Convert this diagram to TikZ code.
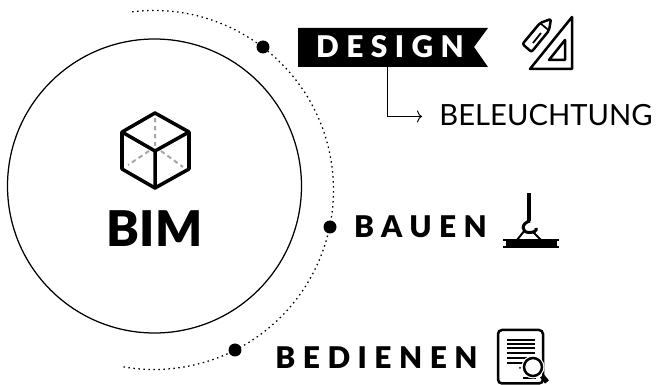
\documentclass[tikz,border=0pt]{standalone}
\usepackage{fontspec}
\setmainfont{Lato}
\newfontfamily\blackfont{Lato Black}
\usetikzlibrary{positioning,arrows.meta}

\tikzset{
    dotmark/.style={circle, fill=black, inner sep=0pt, minimum size=0.26cm},
    stagelabel/.style={font=\blackfont\fontsize{17}{20}\selectfont\addfontfeature{LetterSpace=25}, inner sep=0pt},
    iconline/.style={line width=0.05cm, line join=round}
}

\begin{document}
\begin{tikzpicture}
    \useasboundingbox (0,0) rectangle (13.12,7.7);

    % Big circle with the cube
    \draw[line width=0.025cm] (3.09,3.98) circle (2.94);
    \draw[line width=0.07cm, line join=round] (3.10,5.44) -- (2.44,5.06) -- (2.44,4.32) -- (3.10,3.94) -- (3.78,4.32) -- (3.78,5.06) -- cycle;
    \draw[line width=0.07cm, line join=round] (2.44,5.06) -- (3.10,4.68) -- (3.78,5.06) (3.10,4.68) -- (3.10,3.94);
    \draw[gray!70, line width=0.04cm, dash pattern=on 0.09cm off 0.07cm] (3.10,5.34) -- (3.10,4.78) (2.98,4.68) -- (2.56,4.40) (3.22,4.68) -- (3.66,4.36);
    \node[font=\blackfont\fontsize{28}{32}\selectfont, inner sep=0pt] (bim) at (3.09,3.13) {BIM};

    % Dotted arc and its three dots
    \draw[line width=0.025cm, dash pattern=on 0.03cm off 0.07cm] (3.08,3.90) ++(97:3.59) arc (97:-100:3.59);
    \node[dotmark] (dotdesign) at (5.26,6.76) {};
    \node[dotmark] (dotbauen) at (6.60,3.16) {};
    \node[dotmark] (dotbedienen) at (4.70,0.70) {};

    % Design banner
    \fill (5.96,7.14) -- (9.76,7.14) -- (9.48,6.76) -- (9.76,6.36) -- (5.96,6.36) -- cycle;
    \node[stagelabel, text=white] (design) at (7.80,6.76) {DESIGN};
    \coordinate (drop) at (7.76,6.36);
    \node[font=\fontsize{16.6}{20}\selectfont, inner sep=0pt] (beleuchtung) at (10.92,5.40) {BELEUCHTUNG};
    \coordinate (arrowend) at (8.44,5.37);
    \draw[-{To[length=0.1cm,width=0.24cm]}, line width=0.02cm] (drop) |- (arrowend);

    % Other labels
    \node[stagelabel] (bauen) at (8.41,3.17) {BAUEN};
    \node[stagelabel] (bedienen) at (7.53,0.55) {BEDIENEN};

    % Ruler and pencil
    \draw[iconline] (11.44,7.36) -- (11.44,6.32) -- (10.60,6.32) -- cycle;
    \draw[iconline] (11.30,6.90) -- (11.30,6.50) -- (10.98,6.50) -- cycle;
    \draw[iconline, rounded corners=0.04cm] (10.80,7.24) -- (11.02,7.32) -- (10.98,7.09) -- (10.63,6.66) -- (10.45,6.82) -- cycle;
    \draw[line width=0.035cm] (10.80,7.24) -- (10.98,7.09) (10.82,7.04) -- (10.66,6.84) (10.71,7.13) -- (10.56,6.95);

    % Crane hook and beam
    \draw[line width=0.07cm] (10.58,3.84) -- (10.58,3.28);
    \draw[line width=0.06cm] (10.60,3.28) .. controls (10.42,3.24) and (10.42,3.05) .. (10.58,3.05) .. controls (10.68,3.05) and (10.74,3.08) .. (10.72,3.14);
    \draw[line width=0.04cm] (10.34,2.90) -- (10.50,3.10) (10.66,3.06) -- (10.82,2.90);
    \fill (10.12,2.77) rectangle (11.14,2.90);
    \draw[line width=0.04cm] (10.06,2.90) -- (11.18,2.90) (10.06,2.76) -- (11.18,2.76);

    % Document with magnifier
    \draw[line width=0.05cm, rounded corners=0.08cm] (9.96,1.10) rectangle (10.86,0.03);
    \draw[line width=0.05cm] (10.14,0.90) -- (10.70,0.90) (10.14,0.82) -- (10.70,0.82) (10.14,0.74) -- (10.70,0.74) (10.14,0.64) -- (10.70,0.64) (10.14,0.54) -- (10.56,0.54) (10.14,0.44) -- (10.46,0.44);
    \draw[line width=0.04cm] (10.46,0.14) -- (10.72,0.14);
    \fill (10.40,0.34) circle (0.02);
    \fill[white] (10.66,0.36) circle (0.23);
    \draw[line width=0.05cm] (10.66,0.36) circle (0.18);
    \draw[line width=0.1cm] (10.84,0.18) -- (10.94,0.06);
\end{tikzpicture}
\end{document}
